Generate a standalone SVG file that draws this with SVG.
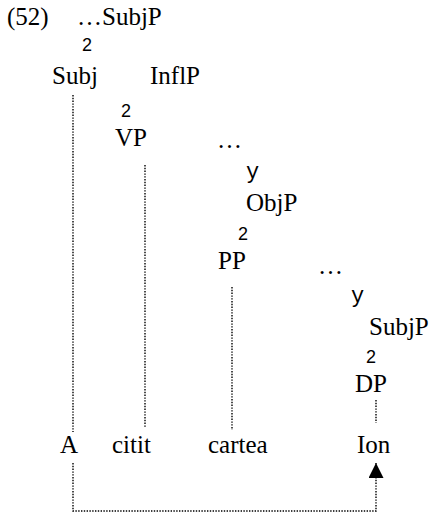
<svg xmlns="http://www.w3.org/2000/svg" width="436" height="513" viewBox="0 0 436 513">
<defs>
<style>
.t{font-family:"Liberation Serif","Times New Roman",serif;font-size:25px;fill:#000}
.b{font-family:"Liberation Sans",Arial,sans-serif;font-size:18px;fill:#000}
.y{font-family:"Liberation Mono","Courier New",monospace;font-size:22px;fill:#000}
.d{fill:none;stroke:#000;stroke-width:1.4;stroke-dasharray:1.4 1.4}
</style>
<marker id="ah" viewBox="0 0 15 15" refX="15" refY="7.5" markerWidth="15" markerHeight="15" markerUnits="userSpaceOnUse" orient="auto">
<path d="M0,0 L15,7.5 L0,15 Z" fill="#000"/>
</marker>
</defs>
<rect width="436" height="513" fill="#fff"/>
<g id="label52"><text class="t" x="7" y="25">(52)</text></g>
<g id="subjp-top"><text class="t" x="77" y="25">…SubjP</text></g>
<g id="b1"><text class="b" x="82" y="51">2</text></g>
<g id="subj"><text class="t" x="52" y="84">Subj</text></g>
<g id="inflp"><text class="t" x="150" y="84">InflP</text></g>
<g id="b2"><text class="b" x="121" y="117">2</text></g>
<g id="vp"><text class="t" x="115" y="146">VP</text></g>
<g id="dots1"><text class="t" x="217" y="148">…</text></g>
<g id="y1"><text class="y" x="246" y="178">y</text></g>
<g id="objp"><text class="t" x="246" y="211">ObjP</text></g>
<g id="b3"><text class="b" x="238" y="240">2</text></g>
<g id="pp"><text class="t" x="218" y="269">PP</text></g>
<g id="dots2"><text class="t" x="318" y="274">…</text></g>
<g id="y2"><text class="y" x="351" y="302">y</text></g>
<g id="subjp"><text class="t" x="369" y="335">SubjP</text></g>
<g id="b4"><text class="b" x="366" y="363">2</text></g>
<g id="dp"><text class="t" x="355" y="392">DP</text></g>
<g id="a"><text class="t" x="60" y="453">A</text></g>
<g id="citit"><text class="t" x="112" y="453">citit</text></g>
<g id="cartea"><text class="t" x="208" y="453">cartea</text></g>
<g id="ion"><text class="t" x="357" y="453">Ion</text></g>
<g id="connectors">
<line class="d" x1="73" y1="95" x2="73" y2="432"/>
<line class="d" x1="145" y1="165" x2="145" y2="428"/>
<line class="d" x1="232" y1="287" x2="232" y2="430"/>
<line class="d" x1="376" y1="400" x2="376" y2="423"/>
<path class="d" d="M73,463 V511 H376 V463" marker-end="url(#ah)"/>
</g>
</svg>
